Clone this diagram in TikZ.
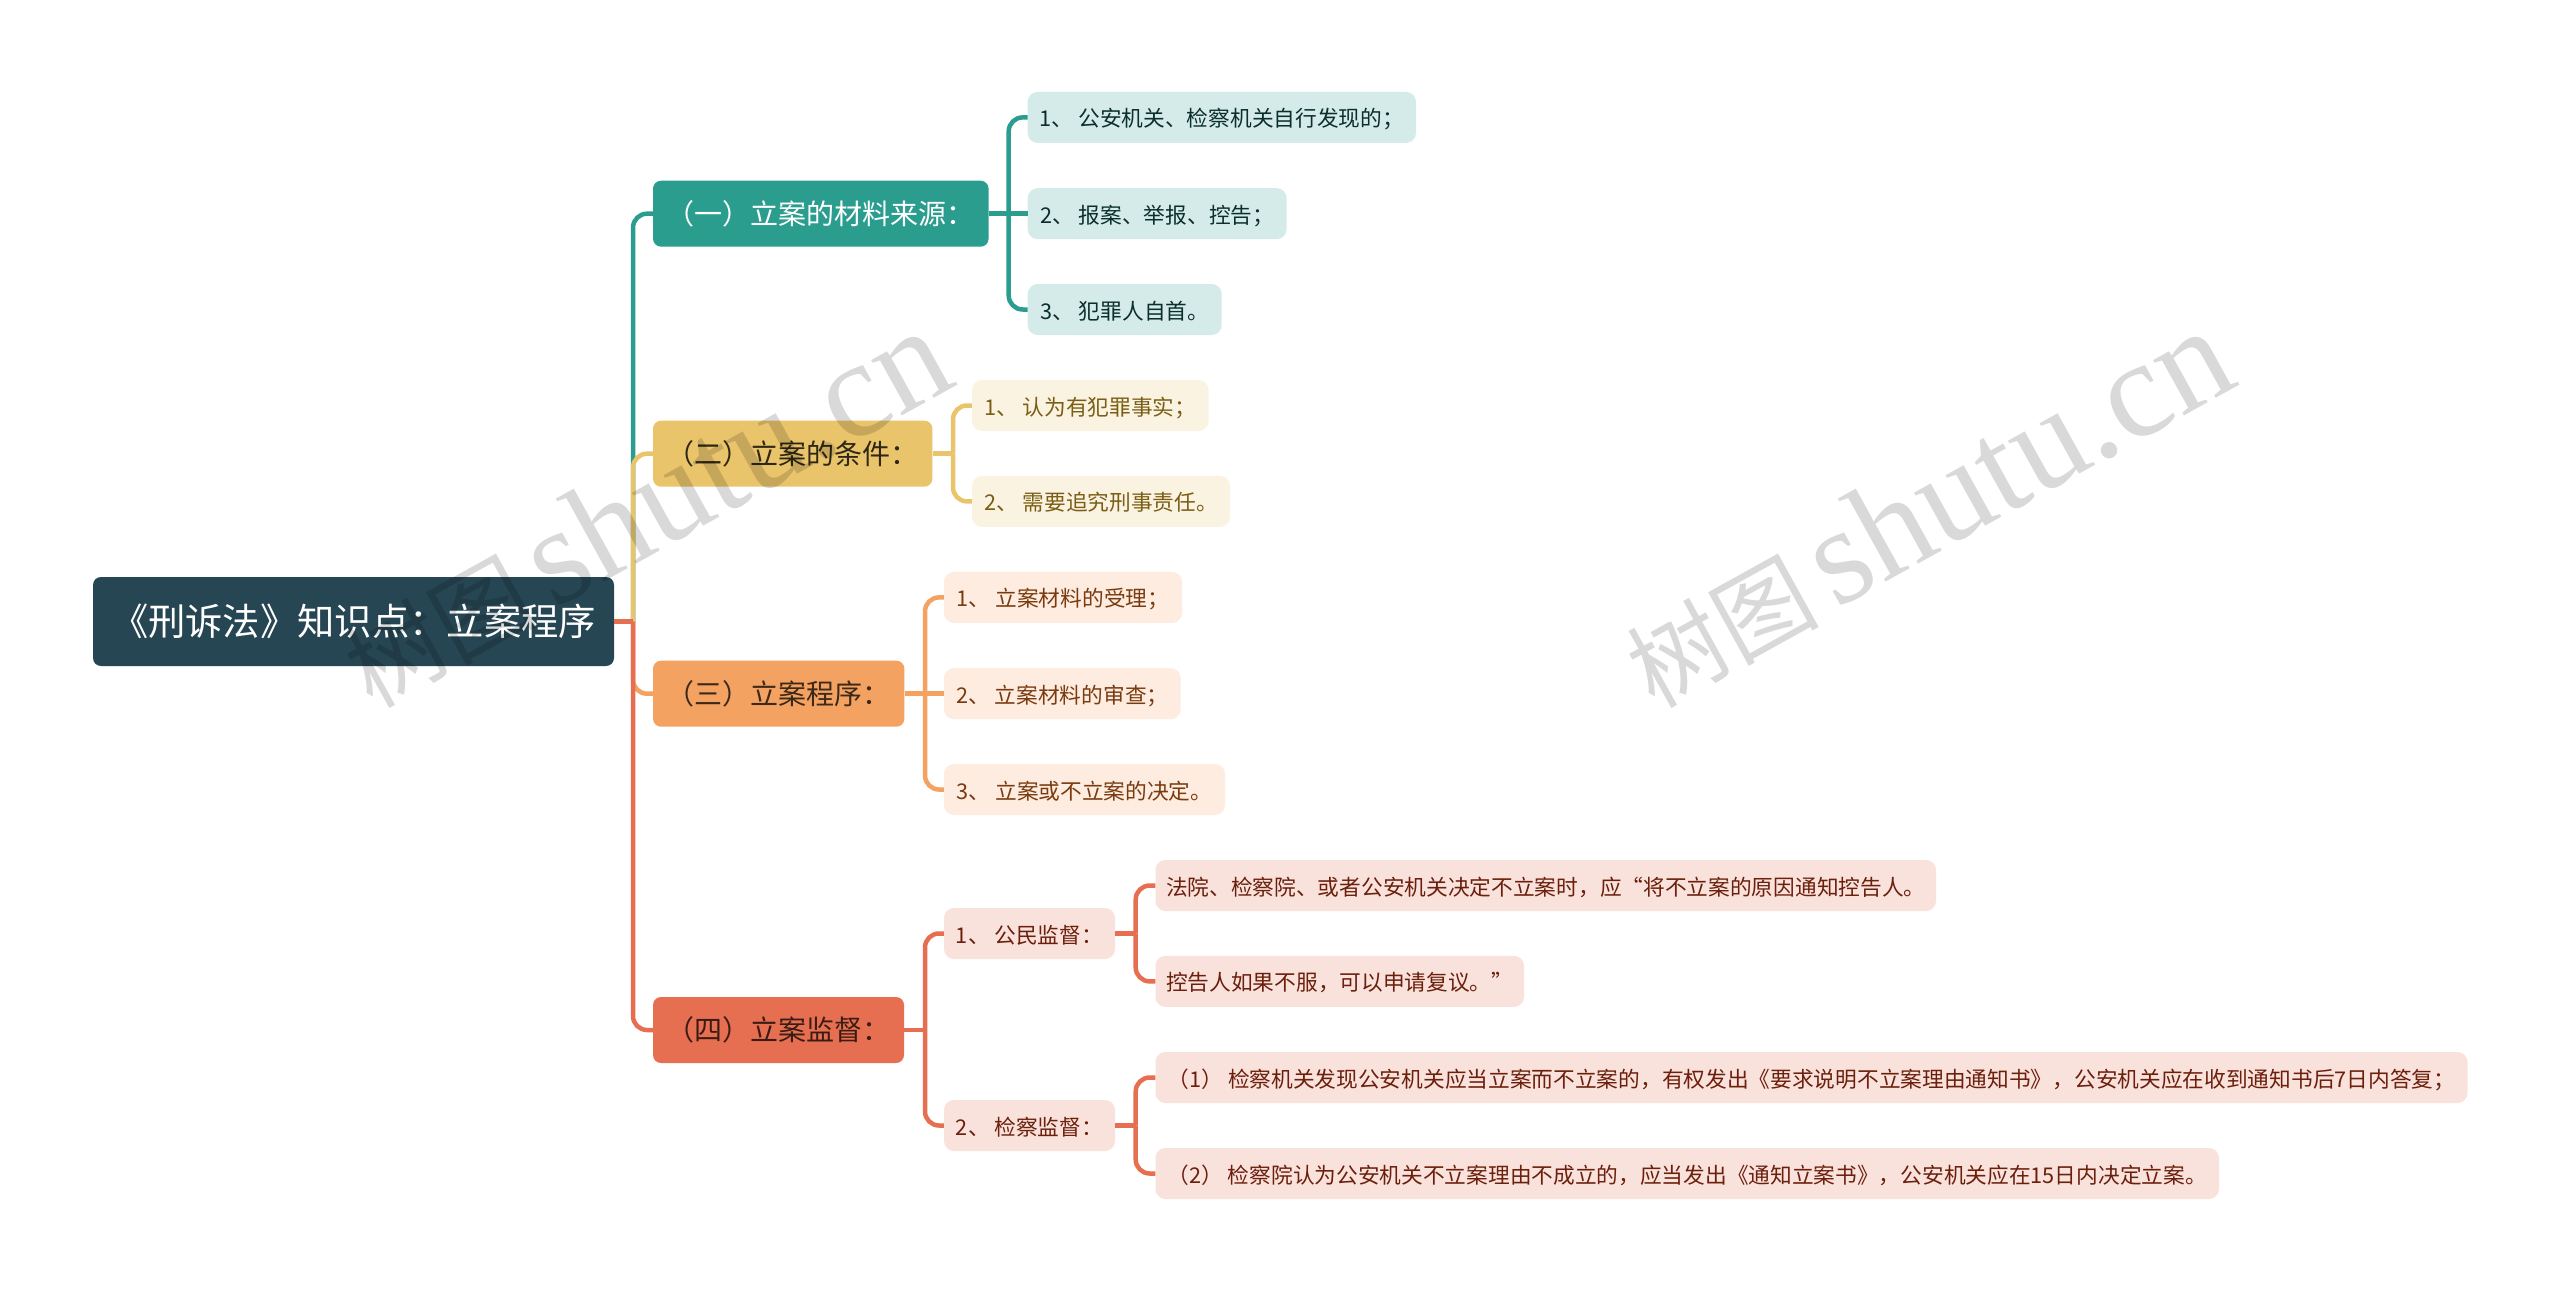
\documentclass[tikz,border=0pt]{standalone}
\usepackage{fontspec}
\setmainfont{Noto Sans CJK SC}
\newfontfamily\wmlatin{Liberation Serif}
\definecolor{cRoot}{HTML}{264653}
\definecolor{cTeal}{HTML}{2A9D8F}
\definecolor{cYel}{HTML}{E9C46A}
\definecolor{cOra}{HTML}{F4A261}
\definecolor{cRed}{HTML}{E76F51}
\definecolor{lTeal}{HTML}{D4EBE9}
\definecolor{lYel}{HTML}{FBF3E1}
\definecolor{lOra}{HTML}{FDECDF}
\definecolor{lRed}{HTML}{FAE2DC}
\definecolor{tTeal}{HTML}{0D2F2B}
\definecolor{tYel}{HTML}{7A5E14}
\definecolor{tOra}{HTML}{7A3B10}
\definecolor{tRed}{HTML}{6B1F0C}
\tikzset{
  boxbase/.style={rectangle,inner sep=0pt,anchor=center},
  rootbox/.style={boxbase,fill=cRoot,text=white,rounded corners=8pt,minimum height=89pt,font=\fontsize{37.3}{40}\selectfont},
  mainbox/.style={boxbase,rounded corners=8pt,minimum height=66pt,font=\fontsize{28}{32}\selectfont},
  leafbox/.style={boxbase,rounded corners=10pt,minimum height=51pt,font=\fontsize{21.7}{26}\selectfont,text height=22pt,text depth=3pt},
  tealleaf/.style={leafbox,fill=lTeal,text=tTeal},
  yelleaf/.style={leafbox,fill=lYel,text=tYel},
  oraleaf/.style={leafbox,fill=lOra,text=tOra},
  redleaf/.style={leafbox,fill=lRed,text=tRed},
  link/.style={line width=4.5pt,rounded corners=14pt},
  wmark/.style={anchor=base west,rotate=29,inner sep=0pt,text=black,text opacity=0.15},
}
\begin{document}
\begin{tikzpicture}[x=1pt,y=-1pt]
\useasboundingbox (0,0) rectangle (2560,1292);
\fill[white] (0,0) rectangle (2560,1292);
% nodes
\node[rootbox,minimum width=521pt] (root) at (353.5,621.5) {《刑诉法》知识点：立案程序};
\node[mainbox,fill=cTeal,text=white,minimum width=335.6pt] (n1) at (820.8,213.7) {（一）立案的材料来源：};
\node[mainbox,fill=cYel,text=black!80!cYel,minimum width=279.4pt] (n2) at (792.7,453.7) {（二）立案的条件：};
\node[mainbox,fill=cOra,text=black!75!cOra,minimum width=251.4pt] (n3) at (778.7,693.7) {（三）立案程序：};
\node[mainbox,fill=cRed,text=black!75!cRed,minimum width=251pt] (n4) at (778.5,1030) {（四）立案监督：};

\node[tealleaf,minimum width=388.3pt] (a1) at (1221.85,117.4) {1、 公安机关、检察机关自行发现的；};
\node[tealleaf,minimum width=258.9pt] (a2) at (1157.15,213.7) {2、 报案、举报、控告；};
\node[tealleaf,minimum width=194pt] (a3) at (1124.7,309.5) {3、 犯罪人自首。};

\node[yelleaf,minimum width=236.5pt] (b1) at (1090.25,405.5) {1、 认为有犯罪事实；};
\node[yelleaf,minimum width=258pt] (b2) at (1101,501.4) {2、 需要追究刑事责任。};

\node[oraleaf,minimum width=238pt] (c1) at (1063,597.4) {1、 立案材料的受理；};
\node[oraleaf,minimum width=236.6pt] (c2) at (1062.3,693.7) {2、 立案材料的审查；};
\node[oraleaf,minimum width=281pt] (c3) at (1084.5,789.5) {3、 立案或不立案的决定。};

\node[redleaf,minimum width=171pt] (d1) at (1029.5,933.5) {1、 公民监督：};
\node[redleaf,minimum width=171pt] (d2) at (1029.5,1125.5) {2、 检察监督：};

\node[redleaf,minimum width=780.5pt] (e1) at (1545.75,885.5) {法院、检察院、或者公安机关决定不立案时，应“将不立案的原因通知控告人。};
\node[redleaf,minimum width=368.5pt] (e2) at (1339.75,981.4) {控告人如果不服，可以申请复议。”};
\node[redleaf,minimum width=1312pt] (e3) at (1811.5,1077.5) {（1） 检察机关发现公安机关应当立案而不立案的，有权发出《要求说明不立案理由通知书》，公安机关应在收到通知书后7日内答复；};
\node[redleaf,minimum width=1063.5pt] (e4) at (1687.25,1173.5) {（2） 检察院认为公安机关不立案理由不成立的，应当发出《通知立案书》，公安机关应在15日内决定立案。};

% junctions
\coordinate (t0) at (633,621.5);
\coordinate (ta) at (1008.7,213.7);
\coordinate (tb) at (953,453.7);
\coordinate (tc) at (925,693.7);
\coordinate (td) at (925,1030);
\coordinate (te) at (1135.7,933.5);
\coordinate (tf) at (1135.7,1125.5);

% connectors (drawn in the reference's stacking order)
\draw[link,cTeal] (t0) |- (n1.west);
\draw[link,cTeal] (n1.east) -- (ta);
\draw[link,cTeal] (ta) |- (a1.west);
\draw[link,cTeal] (ta) -- (a2.west);
\draw[link,cTeal] (ta) |- (a3.west);

\draw[link,cYel] (t0) |- (n2.west);
\draw[link,cYel] (n2.east) -- (tb);
\draw[link,cYel] (tb) |- (b1.west);
\draw[link,cYel] (tb) |- (b2.west);

\draw[link,cOra] (t0) |- (n3.west);
\draw[link,cOra] (n3.east) -- (tc);
\draw[link,cOra] (tc) |- (c1.west);
\draw[link,cOra] (tc) -- (c2.west);
\draw[link,cOra] (tc) |- (c3.west);

\draw[link,cRed] (t0) |- (n4.west);
\draw[link,cRed] (root.east) -- (t0);
\draw[link,cRed] (n4.east) -- (td);
\draw[link,cRed] (td) |- (d1.west);
\draw[link,cRed] (td) |- (d2.west);
\draw[link,cRed] (d1.east) -- (te);
\draw[link,cRed] (te) |- (e1.west);
\draw[link,cRed] (te) |- (e2.west);
\draw[link,cRed] (d2.east) -- (tf);
\draw[link,cRed] (tf) |- (e3.west);
\draw[link,cRed] (tf) |- (e4.west);

% watermarks
\node[wmark] (w1) at (372,710) {\fontsize{96}{100}\selectfont 树图\,{\wmlatin\fontsize{138}{140}\selectfont shutu.cn}};
\node[wmark] (w2) at (1654,710) {\fontsize{96}{100}\selectfont 树图\,{\wmlatin\fontsize{138}{140}\selectfont shutu.cn}};
\end{tikzpicture}
\end{document}
